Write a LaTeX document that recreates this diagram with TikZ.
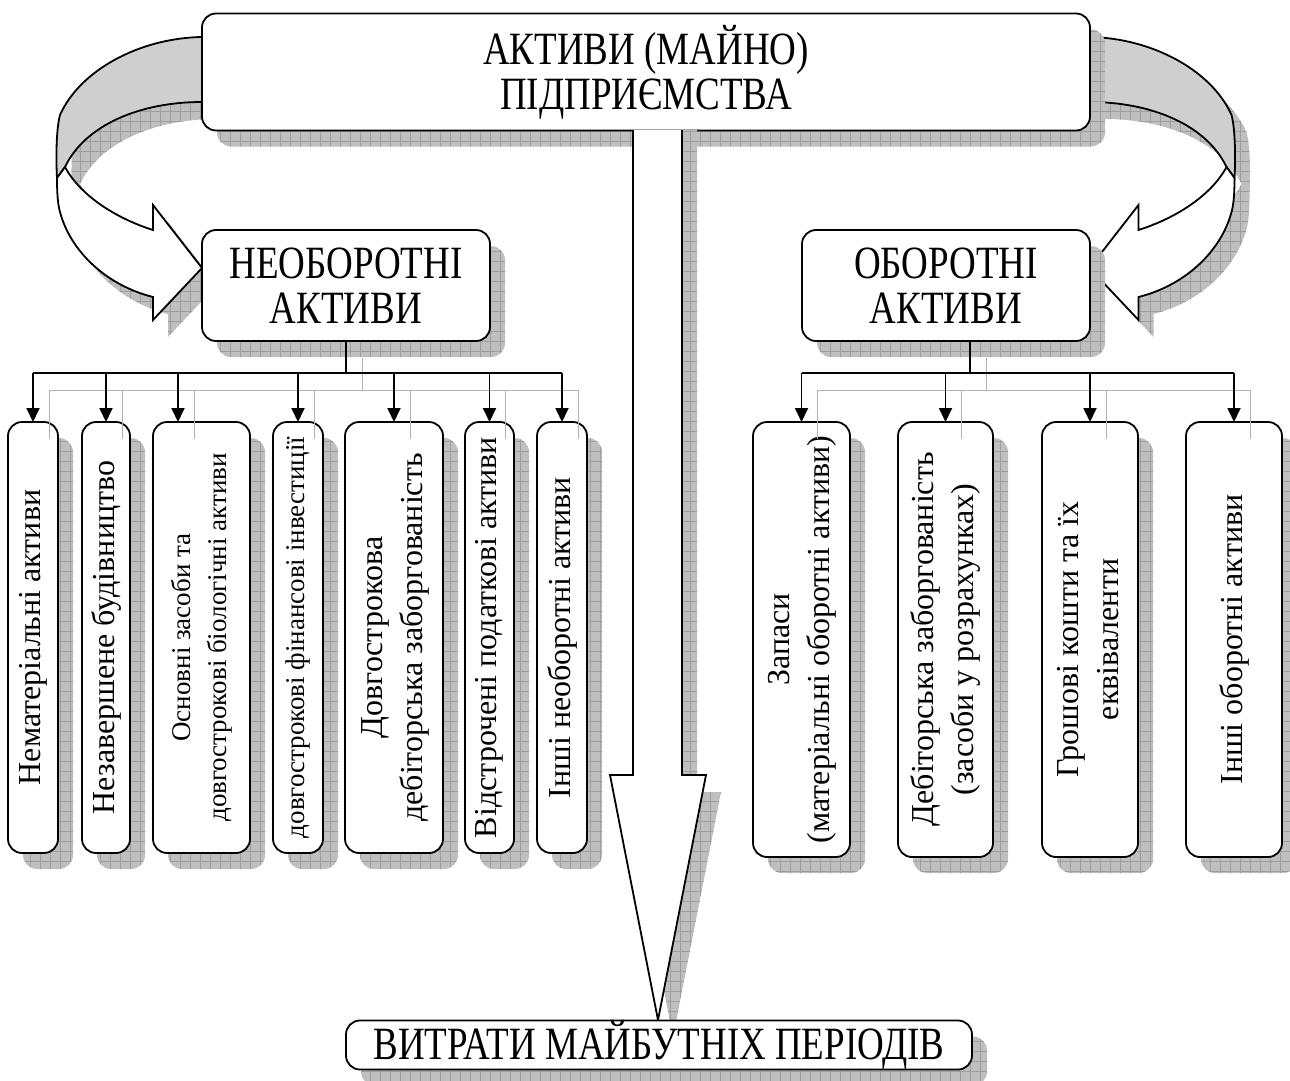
\documentclass[tikz,border=0pt]{standalone}
\usepackage{fontspec}
\setmainfont{Liberation Serif}
\usetikzlibrary{arrows.meta,patterns.meta}

% Curved ribbon arrow (left-hand version); the right one is its mirror image
\newcommand\ribbonOutline{(260,37) -- (202,37) .. controls (140,38) and (80,70) .. (60,115)
  .. controls (56,130) and (56,160) .. (57,178) .. controls (57,195) and (58,205) .. (60,212)
  .. controls (70,250) and (105,285) .. (153,297) -- (153,320) -- (202,268) -- (153,205)
  -- (153,230) .. controls (115,218) and (80,195) .. (65,167)
  .. controls (85,125) and (140,102) .. (202,102) -- (260,102) -- cycle}
\newcommand\ribbonBack{(260,37) -- (202,37) .. controls (140,38) and (80,70) .. (60,115)
  .. controls (56,130) and (56,160) .. (57,178) -- (65,167)
  .. controls (85,125) and (140,102) .. (202,102) -- (260,102) -- cycle}
\newcommand\ribbonFront{(65,167) -- (57,178) .. controls (57,195) and (58,205) .. (60,212)
  .. controls (70,250) and (105,285) .. (153,297) -- (153,320) -- (202,268) -- (153,205)
  -- (153,230) .. controls (115,218) and (80,195) .. (65,167) -- cycle}

% horizontal captions are set in a tall, narrow cut
\newcommand\tallText[1]{\scalebox{1}[1.25]{#1}}

\begin{document}
\begin{tikzpicture}[x=1pt,y=-1pt,line width=1.8pt,
  shadowpat/.style={fill=black!25,
    postaction={pattern={Lines[distance=10pt,line width=0.7pt]},pattern color=black!38},
    postaction={pattern={Lines[angle=90,distance=10pt,line width=0.7pt]},pattern color=black!38}},
  box/.style={draw,fill=white,rounded corners=14pt,inner sep=0pt,outer sep=0pt,align=center,
    preaction={shadowpat,transform canvas={shift={(15pt,-16pt)}}}},
  bigtext/.style={font=\fontsize{37}{45}\selectfont},
  vtext/.style={font=\fontsize{32}{40}\selectfont},
  vsmall/.style={font=\fontsize{27}{36}\selectfont},
  arr/.style={-{Triangle[length=14pt,width=13pt]}},
  ghost/.style={draw=black!30,line width=1pt,transform canvas={shift={(16pt,-17pt)}}},
]
\useasboundingbox (0,0) rectangle (1290,1081);

% shadows of the two curved arrows
\begin{scope}[shift={(15,17)}]
  \path[shadowpat] \ribbonOutline;
  \begin{scope}[shift={(1291.5,0)},xscale=-1]
    \path[shadowpat] \ribbonOutline;
  \end{scope}
\end{scope}

% curved arrows
\path[draw,fill=black!19] \ribbonBack;
\path[draw,fill=white] \ribbonFront;
\begin{scope}[shift={(1291.5,0)},xscale=-1]
  \path[draw,fill=black!19] \ribbonBack;
  \path[draw,fill=white] \ribbonFront;
\end{scope}

% main box
\node[box,bigtext,minimum width=888pt,minimum height=117pt] (top) at (646,72)
  {\tallText{АКТИВИ (МАЙНО)}\\\tallText{ПІДПРИЄМСТВА}};

% large downward arrow
\begin{scope}[shift={(15,17)}]
  \path[shadowpat] (633,113) -- (633,775) -- (610,775) -- (658,1020) -- (706,775)
    -- (682,775) -- (682,113) -- cycle;
\end{scope}
\path[draw,fill=white] (633,130) -- (633,775) -- (610,775) -- (658,1020) -- (706,775)
  -- (682,775) -- (682,130);

% second level
\node[box,bigtext,minimum width=288pt,minimum height=111pt] (neo) at (346,285.5)
  {\tallText{НЕОБОРОТНІ}\\\tallText{АКТИВИ}};
\node[box,bigtext,minimum width=288pt,minimum height=111pt] (obo) at (946,285.5)
  {\tallText{ОБОРОТНІ}\\\tallText{АКТИВИ}};

% third level: non-current assets
\node[box,vtext,minimum width=50pt,minimum height=431pt] (c1) at (33,637.5)
  {\rotatebox{90}{Нематеріальні активи}};
\node[box,vtext,minimum width=48pt,minimum height=431pt] (c2) at (106,637.5)
  {\rotatebox{90}{Незавершене будівництво}};
\node[box,vsmall,minimum width=97pt,minimum height=431pt] (c3) at (201.5,637.5)
  {\rotatebox{90}{\begin{tabular}{@{}c@{}}Основні засоби та\\довгострокові біологічні активи\end{tabular}}};
\node[box,vsmall,minimum width=50pt,minimum height=431pt] (c4) at (298,637.5)
  {\rotatebox{90}{довгострокові фінансові інвестиції}};
\node[box,vtext,minimum width=98pt,minimum height=431pt] (c5) at (394,637.5)
  {\rotatebox{90}{\begin{tabular}{@{}c@{}}Довгострокова\\дебіторська заборгованість\end{tabular}}};
\node[box,vtext,minimum width=49pt,minimum height=431pt] (c6) at (489.5,637.5)
  {\rotatebox{90}{Відстрочені податкові активи}};
\node[box,vtext,minimum width=50pt,minimum height=431pt] (c7) at (562,637.5)
  {\rotatebox{90}{Інші необоротні активи}};

% third level: current assets
\node[box,vtext,minimum width=97pt,minimum height=435pt] (d1) at (801.5,639.5)
  {\rotatebox{90}{\begin{tabular}{@{}c@{}}Запаси\\(матеріальні оборотні активи)\end{tabular}}};
\node[box,vtext,minimum width=95pt,minimum height=435pt] (d2) at (945.5,639.5)
  {\rotatebox{90}{\begin{tabular}{@{}c@{}}Дебіторська заборгованість\\(засоби у розрахунках)\end{tabular}}};
\node[box,vtext,minimum width=96pt,minimum height=435pt] (d3) at (1090,639.5)
  {\rotatebox{90}{\begin{tabular}{@{}c@{}}Грошові кошти та їх\\еквіваленти\end{tabular}}};
\node[box,vtext,minimum width=96pt,minimum height=435pt] (d4) at (1234,639.5)
  {\rotatebox{90}{Інші оборотні активи}};

% bus points
\coordinate (busL) at ([yshift=-32pt]neo.south);
\coordinate (oboOut) at ([xshift=24pt]obo.south);
\coordinate (busR) at ([yshift=-32pt]oboOut);
\coordinate (c3in) at ([xshift=-23.5pt]c3.north);

% connector shadows
\draw[ghost] (neo.south) -- (busL);
\draw[ghost] (c1.north |- busL) -- (c7.north |- busL);
\foreach \n in {c1,c2,c4,c5,c6,c7} \draw[ghost] (\n.north |- busL) -- (\n.north);
\draw[ghost] (c3in |- busL) -- (c3in);
\draw[ghost] (oboOut) -- (busR);
\draw[ghost] (d1.north |- busR) -- (d4.north |- busR);
\foreach \n in {d1,d2,d3,d4} \draw[ghost] (\n.north |- busR) -- (\n.north);

% connectors
\draw (neo.south) -- (busL);
\draw (c1.north |- busL) -- (c7.north |- busL);
\foreach \n in {c1,c2,c4,c5,c6,c7} \draw[arr] (\n.north |- busL) -- (\n.north);
\draw[arr] (c3in |- busL) -- (c3in);
\draw (oboOut) -- (busR);
\draw (d1.north |- busR) -- (d4.north |- busR);
\foreach \n in {d1,d2,d3,d4} \draw[arr] (\n.north |- busR) -- (\n.north);

% bottom box
\node[box,bigtext,minimum width=626pt,minimum height=46pt] (exp) at (659,1045)
  {\tallText{ВИТРАТИ МАЙБУТНІХ ПЕРІОДІВ}};
\end{tikzpicture}
\end{document}
